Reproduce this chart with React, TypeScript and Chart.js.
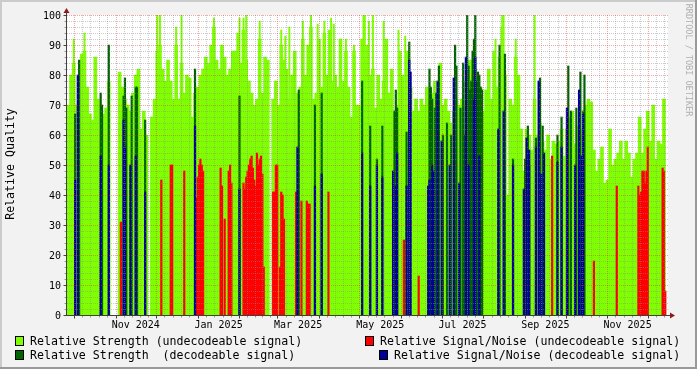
import React, { useEffect, useRef } from "react";
import { Chart, registerables } from "chart.js";

Chart.register(...registerables);

// Day 0 = 2024-09-26, one unit = one day
const START_UTC = Date.UTC(2024, 8, 26);
const TOTAL_DAYS = 446;
const BIN_DAYS = 2;

// Relative Strength (undecodeable signal), one value per 2-day bin (null = no data)
const strengthUndecodeable: (number | null)[] = [
  70, 80, 84, 70, 72, 87, 88, 76, 67, 65, 86, 72, 58, 67, 69, 78,
  null, null, null,
  81, 76, 72, 70, 68, 74, 80, 82, 62, 68, 60,
  null,
  66, 72, 88, 90, 82, 78,
  85, 78, 72, 90, 72, 84, 74, 80, 79, 66, 74, 76, 80, 82, 86, 84, 90, 96, 85, 82,
  90, 86, 80, 82, 88, 88, 94, 84, 95, 85, 78, 74, 70, 72, 92, 74, 86,
  85,
  null,
  72, 78, 70, 90, 85, 82, 72, 80, 88, 74, 76, 92, 80, 90, 96, 72, 74, 92, 76, 94,
  80, 95, 78, 80, 76, 92, 78, 88, 76, 66, 88, 70, 70, 92,
  85, 90, 80, 82, 69, 80, 72, 78, 92, 74, 82, 68, 70, 88, 80, 68, 88, 76, 68, 72,
  68, 72, 70, 76, 72, 74, 78, 70, 84, 70, 72, 68, 64, 68, 72, 70, 72,
  78, 84, 85, 80, 82, 78, 76, 68, 75, 82, 72, 88, 76, 86, 96, 80, 40, 72, 70, 86,
  80, 62, 48, 62, 60, 55, 72, 60, 64, 58, 55, 60, 52, 58, 57, 58, 62,
  53, 62, 66, 68, 57, 63, 60, 62, 70, 72, 71, 55, 48, 52, 56, 44, 45, 62, 50, 52,
  54, 58, 52, 58, 54, 46, 52, 54, 66, 54, 62, 68, 58, 70, 52, 58, 57, 72,
];

// Single-day peaks of Relative Strength (undecodeable signal)
const strengthPeakDays = [
  5, 13, 67, 69, 81, 85, 109, 128, 131, 133, 143, 159, 162, 165, 175, 181, 186, 191,
  196, 198, 203, 207, 213, 220, 221, 224, 227, 235, 246, 251, 318, 323, 324, 333, 347,
];
const strengthPeakValues = [
  92, 94, 100, 100, 96, 100, 99, 99, 99, 100, 98, 95, 93, 96, 98, 100, 97, 98,
  99, 97, 92, 92, 90, 100, 100, 98, 100, 98, 95, 93, 92, 100, 100, 92, 100,
];

// Relative Strength (decodeable signal)
const strengthDecodeableDays = [
  6, 9, 25, 26, 31, 42, 43, 44, 48, 51, 52, 58, 95, 128, 172, 184, 189, 219, 225, 230,
  234, 243, 244, 245, 252, 254, 269, 270, 271, 273, 274, 276, 279, 282, 285, 288, 289, 292,
  294, 295, 296, 297, 298, 299, 300, 301, 302, 303, 304, 305, 306, 307, 308,
  321, 325, 331, 340, 342, 343, 348, 351, 353, 364, 367, 372, 374, 378, 381, 383, 384,
];
const strengthDecodeableValues = [
  67, 85, 74, 70, 90, 73, 79, 69, 73, 76, 76, 65, 82, 73, 75, 70, 74, 78, 63, 52,
  63, 68, 75, 69, 61, 91, 82, 76, 72, 69, 74, 83, 60, 64, 60, 90, 83, 69,
  84, 60, 70, 100, 83, 75, 78, 88, 92, 100, 78, 81, 80, 76, 75,
  90, 87, 52, 52, 63, 50, 59, 79, 63, 60, 66, 83, 68, 69, 81, 68, 80,
];

// Relative Signal/Noise (undecodeable signal)
const snrUndecodeableDays = [
  40, 70, 77, 78, 87, 96, 97, 98, 99, 100, 101, 114, 115, 117, 120, 121, 122,
  131, 132, 133, 134, 135, 136, 137, 138, 139, 140, 141, 142, 143, 144, 145, 146,
  153, 154, 155, 156, 158, 159, 160, 161, 170, 174, 178, 179, 180, 194, 250, 261,
  360, 391, 408, 424, 425, 426, 427, 428, 429, 430, 431, 442, 443, 444,
];
const snrUndecodeableValues = [
  31, 45, 50, 50, 48, 39, 46, 50, 52, 50, 48, 49, 43, 32, 48, 50, 44,
  44, 42, 46, 48, 50, 52, 53, 49, 45, 43, 54, 50, 52, 53, 47, 16,
  41, 41, 50, 50, 16, 41, 40, 32, 41, 38, 38, 37, 37, 41, 25, 13,
  53, 18, 43, 43, 40, 41, 48, 48, 44, 48, 56, 49, 48, 8,
];

// Relative Signal/Noise (decodeable signal)
const snrDecodeableDays = [
  6, 8, 25, 31, 42, 43, 47, 51, 58, 95, 128, 171, 184, 189, 219, 225, 230, 234, 242,
  244, 245, 252, 254, 255, 268, 269, 271, 272, 275, 278, 284, 287, 291, 296, 298, 302,
  303, 306, 320, 324, 331, 339, 341, 343, 348, 350, 352, 354, 364, 367, 371, 377, 380,
  382, 383,
];
const snrDecodeableValues = [
  45, 80, 53, 50, 65, 56, 50, 53, 41, 63, 42, 56, 43, 47, 54, 43, 50, 46, 48,
  43, 54, 43, 85, 81, 43, 45, 50, 48, 78, 58, 50, 79, 44, 86, 50, 72,
  86, 53, 62, 68, 50, 42, 59, 55, 56, 78, 47, 54, 51, 56, 69, 50, 75,
  53, 67,
];

const monthStarts = [
  "2024-10-01", "2024-11-01", "2024-12-01", "2025-01-01", "2025-02-01", "2025-03-01",
  "2025-04-01", "2025-05-01", "2025-06-01", "2025-07-01", "2025-08-01", "2025-09-01",
  "2025-10-01", "2025-11-01", "2025-12-01", "2026-01-01",
];
const xLabelMonths = ["2024-11", "2025-01", "2025-03", "2025-05", "2025-07", "2025-09", "2025-11"];
const xLabels = ["Nov 2024", "Jan 2025", "Mar 2025", "May 2025", "Jul 2025", "Sep 2025", "Nov 2025"];
const yTicks = [0, 10, 20, 30, 40, 50, 60, 70, 80, 90, 100];

const legendItems = [
  { text: "Relative Strength (undecodeable signal)", color: "#7fff00", box: [15, 336], tx: 30, ty: 345 },
  { text: "Relative Signal/Noise (undecodeable signal)", color: "#ff0000", box: [365, 336], tx: 380, ty: 345 },
  { text: "Relative Strength  (decodeable signal)", color: "#006400", box: [15, 350], tx: 30, ty: 359 },
  { text: "Relative Signal/Noise (decodeable signal)", color: "#000096", box: [379, 350], tx: 394, ty: 359 },
];

const dayOf = (s: string) => {
  const [y, m, d] = s.split("-").map(Number);
  return (Date.UTC(y, m - 1, d) - START_UTC) / 86400000;
};

const MONO = "'DejaVu Sans Mono', monospace";

export default function App() {
  const ref = useRef<HTMLCanvasElement | null>(null);

  useEffect(() => {
    document.body.style.margin = "0";
    const canvas = ref.current;
    if (!canvas) return;

    const monthDays = monthStarts.map(dayOf);
    const pxPerDay = 601 / TOTAL_DAYS;

    const bins = strengthUndecodeable
      .map((v, k) => ({ x: k * BIN_DAYS + BIN_DAYS / 2, y: v }))
      .filter((p) => p.y !== null);
    const ev = (days: number[], vals: number[]) => days.map((d, i) => ({ x: d, y: vals[i] }));

    const framePlugin = {
      id: "rrdFrame",
      beforeDraw(chart: any) {
        const { ctx, chartArea: a, width, height } = chart;
        ctx.save();
        ctx.fillStyle = "#f2f2f2";
        ctx.fillRect(0, 0, width, height);
        ctx.fillStyle = "#cbcbcb";
        ctx.fillRect(0, 0, width, 2);
        ctx.fillRect(0, 0, 2, height);
        ctx.fillStyle = "#999999";
        ctx.fillRect(0, height - 2, width, 2);
        ctx.fillRect(width - 2, 0, 2, height);
        ctx.fillStyle = "#ffffff";
        ctx.fillRect(a.left, a.top, a.right - a.left, a.bottom - a.top);
        ctx.restore();
      },
      afterDatasetsDraw(chart: any) {
        const { ctx, chartArea: a, scales } = chart;
        const xs = scales.x, ys = scales.y;
        ctx.save();
        ctx.beginPath();
        ctx.rect(a.left, a.top - 1, a.right - a.left, a.bottom - a.top + 1);
        ctx.clip();
        ctx.lineWidth = 1;
        ctx.setLineDash([1, 1]);
        const hline = (py: number) => {
          ctx.beginPath(); ctx.moveTo(a.left, py); ctx.lineTo(a.right, py); ctx.stroke();
        };
        const vline = (px: number) => {
          ctx.beginPath(); ctx.moveTo(px, a.top); ctx.lineTo(px, a.bottom); ctx.stroke();
        };
        ctx.strokeStyle = "rgba(140,140,140,0.45)";
        for (let v = 2; v < 100; v += 2) {
          if (v % 10 === 0) continue;
          hline(Math.round(ys.getPixelForValue(v)) + 0.5);
        }
        for (let i = 0; i < monthDays.length - 1; i++) {
          for (let j = 1; j < 5; j++) {
            const d = monthDays[i] + ((monthDays[i + 1] - monthDays[i]) * j) / 5;
            if (d < TOTAL_DAYS) vline(Math.round(xs.getPixelForValue(d)) + 0.5);
          }
        }
        ctx.strokeStyle = "rgba(220,60,60,0.45)";
        for (const v of yTicks) {
          if (v === 0) continue;
          hline(Math.round(ys.getPixelForValue(v)) + 0.5);
        }
        for (const d of monthDays) {
          if (d > 0 && d < TOTAL_DAYS) vline(Math.round(xs.getPixelForValue(d)) + 0.5);
        }
        ctx.restore();
      },
      afterDraw(chart: any) {
        const { ctx, chartArea: a, scales } = chart;
        const xs = scales.x, ys = scales.y;
        ctx.save();
        const axisX = a.left - 0.5;
        const axisY = a.bottom + 0.5;
        ctx.strokeStyle = "#404040";
        ctx.lineWidth = 1;
        ctx.beginPath();
        ctx.moveTo(axisX, a.bottom + 1);
        ctx.lineTo(axisX, a.top - 3);
        ctx.moveTo(a.left - 1, axisY);
        ctx.lineTo(a.right + 3, axisY);
        ctx.stroke();
        // ticks
        ctx.beginPath();
        for (const v of yTicks) {
          const py = Math.round(ys.getPixelForValue(v)) + 0.5;
          ctx.moveTo(axisX - 3, py); ctx.lineTo(axisX, py);
        }
        for (const d of monthDays) {
          if (d < 0 || d > TOTAL_DAYS) continue;
          const px = Math.round(xs.getPixelForValue(d)) + 0.5;
          ctx.moveTo(px, axisY); ctx.lineTo(px, axisY + 3);
        }
        ctx.stroke();
        ctx.strokeStyle = "rgba(64,64,64,0.5)";
        ctx.beginPath();
        for (let v = 2; v < 100; v += 2) {
          if (v % 10 === 0) continue;
          const py = Math.round(ys.getPixelForValue(v)) + 0.5;
          ctx.moveTo(axisX - 2, py); ctx.lineTo(axisX, py);
        }
        for (let i = 0; i < monthDays.length - 1; i++) {
          for (let j = 1; j < 5; j++) {
            const d = monthDays[i] + ((monthDays[i + 1] - monthDays[i]) * j) / 5;
            if (d >= TOTAL_DAYS) continue;
            const px = Math.round(xs.getPixelForValue(d)) + 0.5;
            ctx.moveTo(px, axisY); ctx.lineTo(px, axisY + 2);
          }
        }
        ctx.stroke();
        // arrows
        ctx.fillStyle = "#8b1c1c";
        ctx.beginPath();
        ctx.moveTo(axisX, a.top - 7);
        ctx.lineTo(axisX - 3, a.top - 2);
        ctx.lineTo(axisX + 3, a.top - 2);
        ctx.closePath();
        ctx.fill();
        ctx.beginPath();
        ctx.moveTo(a.right + 7, axisY);
        ctx.lineTo(a.right + 2, axisY - 3);
        ctx.lineTo(a.right + 2, axisY + 3);
        ctx.closePath();
        ctx.fill();

        // tick labels
        ctx.fillStyle = "#000000";
        ctx.font = `10px ${MONO}`;
        ctx.textAlign = "right";
        ctx.textBaseline = "alphabetic";
        for (const v of yTicks) {
          ctx.fillText(String(v), 61, ys.getPixelForValue(v) + 4);
        }
        ctx.textAlign = "center";
        xLabelMonths.forEach((m, j) => {
          const i = monthStarts.findIndex((s) => s.startsWith(m));
          const d = (monthDays[i] + monthDays[i + 1]) / 2;
          ctx.fillText(xLabels[j], xs.getPixelForValue(d), 328);
        });

        // y title
        ctx.font = `11.6px ${MONO}`;
        ctx.save();
        ctx.translate(11, 164);
        ctx.rotate(-Math.PI / 2);
        ctx.textAlign = "center";
        ctx.textBaseline = "middle";
        ctx.fillText("Relative Quality", 0, 0);
        ctx.restore();

        // watermark
        ctx.save();
        ctx.font = `8.5px ${MONO}`;
        ctx.fillStyle = "#b0b0b0";
        ctx.translate(688, 60);
        ctx.rotate(Math.PI / 2);
        ctx.textAlign = "center";
        ctx.textBaseline = "middle";
        ctx.fillText("RRDTOOL / TOBI OETIKER", 0, 0);
        ctx.restore();

        // legend
        ctx.font = `11.6px ${MONO}`;
        ctx.textAlign = "left";
        ctx.textBaseline = "alphabetic";
        for (const it of legendItems) {
          ctx.fillStyle = it.color;
          ctx.fillRect(it.box[0], it.box[1], 9, 10);
          ctx.strokeStyle = "#000000";
          ctx.lineWidth = 1;
          ctx.strokeRect(it.box[0] + 0.5, it.box[1] + 0.5, 8, 9);
          ctx.fillStyle = "#000000";
          ctx.fillText(it.text, it.tx, it.ty);
        }
        ctx.restore();
      },
    };

    const chart = new Chart(canvas, {
      type: "bar",
      data: {
        datasets: [
          {
            label: "Relative Strength (undecodeable signal)",
            data: bins as any,
            backgroundColor: "#7fff00",
            barThickness: BIN_DAYS * pxPerDay + 0.3,
            grouped: false,
            order: 4,
          },
          {
            label: "Relative Strength peaks",
            data: ev(strengthPeakDays, strengthPeakValues) as any,
            backgroundColor: "#7fff00",
            barThickness: pxPerDay,
            grouped: false,
            order: 5,
          },
          {
            label: "Relative Signal/Noise (undecodeable signal)",
            data: ev(snrUndecodeableDays, snrUndecodeableValues) as any,
            backgroundColor: "#ff0000",
            barThickness: pxPerDay + 0.2,
            grouped: false,
            order: 3,
          },
          {
            label: "Relative Strength  (decodeable signal)",
            data: ev(strengthDecodeableDays, strengthDecodeableValues) as any,
            backgroundColor: "#006400",
            barThickness: pxPerDay + 0.2,
            grouped: false,
            order: 2,
          },
          {
            label: "Relative Signal/Noise (decodeable signal)",
            data: ev(snrDecodeableDays, snrDecodeableValues) as any,
            backgroundColor: "#000096",
            barThickness: pxPerDay + 0.2,
            grouped: false,
            order: 1,
          },
        ],
      },
      options: {
        animation: false,
        responsive: false,
        devicePixelRatio: 1,
        layout: { padding: { left: 67, top: 15, right: 29, bottom: 54 } },
        scales: {
          x: { type: "linear", min: 0, max: TOTAL_DAYS, offset: false, display: false },
          y: { min: 0, max: 100, display: false },
        },
        plugins: { legend: { display: false }, tooltip: { enabled: false } },
      },
      plugins: [framePlugin],
    } as any);

    return () => chart.destroy();
  }, []);

  return (
    <canvas
      ref={ref}
      width={697}
      height={369}
      style={{ display: "block", width: 697, height: 369 }}
    />
  );
}
